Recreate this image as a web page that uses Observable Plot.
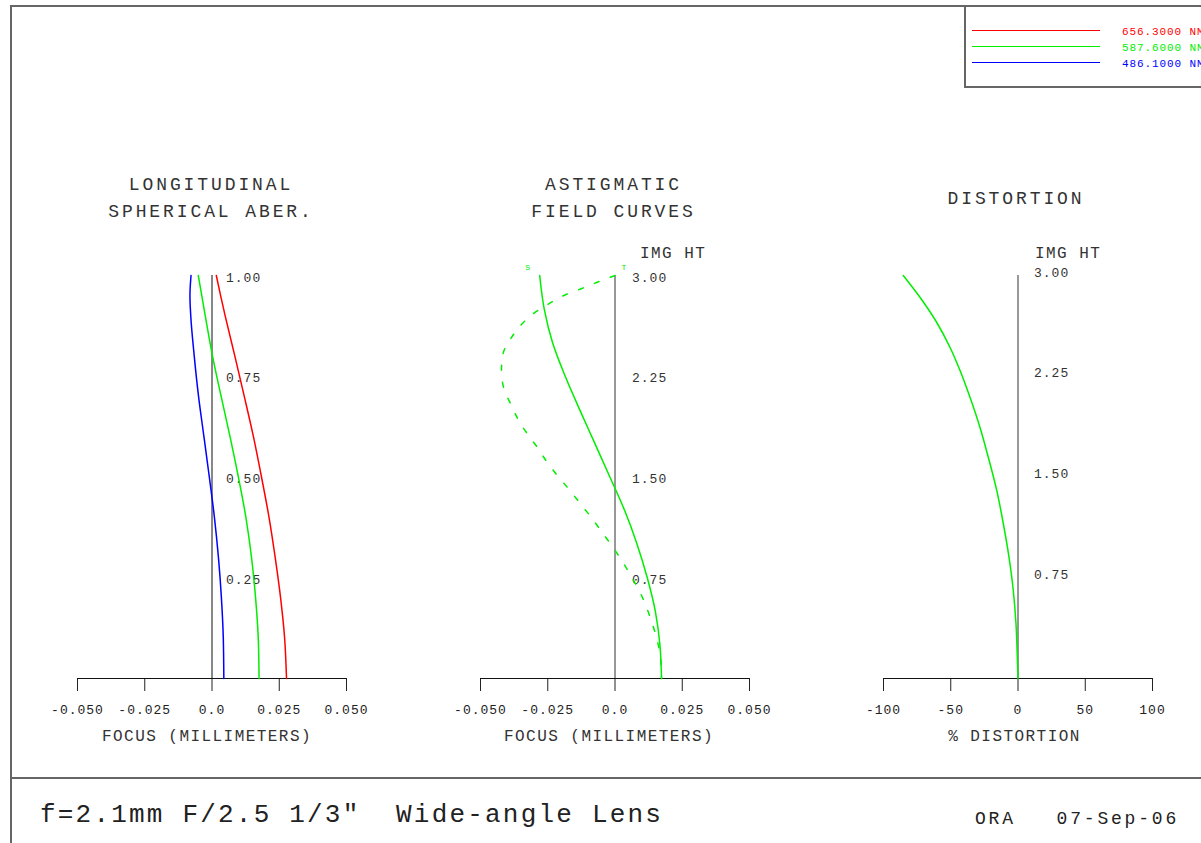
<!DOCTYPE html>
<html><head><meta charset="utf-8">
<script src="https://cdn.jsdelivr.net/npm/d3@7"></script>
<script src="https://cdn.jsdelivr.net/npm/@observablehq/plot@0.6"></script>
<style>
body{margin:0;background:#fff;}
#root{position:relative;width:1201px;height:843px;overflow:hidden;background:#fff;font-family:"Liberation Mono",monospace;color:#333;}
.t{position:absolute;white-space:pre;line-height:1;}
.hl{position:absolute;background:#666;}
</style></head><body><div id="root"></div>
<script>
// ---------- DATA ----------
// Longitudinal spherical aberration: relative pupil height vs focus (mm)
const pupil    = [0, 0.1, 0.2, 0.3, 0.4, 0.5, 0.6, 0.7, 0.8, 0.9, 0.95, 1.0];
const lsaRed   = [0.0277, 0.0270, 0.0255, 0.0235, 0.0212, 0.0184, 0.0154, 0.0120, 0.0085, 0.0049, 0.0032, 0.0016];
const lsaGreen = [0.0175, 0.0172, 0.0162, 0.0147, 0.0126, 0.0098, 0.0067, 0.0034, 0.0002, -0.0025, -0.0038, -0.0051];
const lsaBlue  = [0.0044, 0.0042, 0.0035, 0.0024, 0.0009, -0.0010, -0.0030, -0.0050, -0.0066, -0.0079, -0.0082, -0.0078];
const pupilTicks = [0.25, 0.5, 0.75, 1.0];

// Astigmatic field curves (587.6 nm): image height vs focus (mm)
const sagField = [3.0, 2.75, 2.5, 2.25, 2.0, 1.75, 1.5, 1.25, 1.0, 0.75, 0.5, 0.25, 0];
const sagFocus = [-0.0280, -0.0263, -0.0232, -0.0185, -0.0131, -0.0075, -0.0019, 0.0036, 0.0082, 0.0120, 0.0150, 0.0167, 0.0173];
const tanField = [3.0, 2.95, 2.9, 2.851, 2.789, 2.727, 2.641, 2.529, 2.417, 2.293, 2.157, 2.045, 1.921, 1.822, 1.722, 1.603, 1.499, 1.4, 1.3, 1.196, 1.089, 0.983, 0.873, 0.767, 0.65, 0.536, 0.412, 0.283, 0.159, 0];
const tanFocus = [0.0, -0.0066, -0.0128, -0.0190, -0.0246, -0.0296, -0.0345, -0.0388, -0.0416, -0.0422, -0.0413, -0.0388, -0.0358, -0.0326, -0.0289, -0.0250, -0.0209, -0.0168, -0.0128, -0.0087, -0.0048, -0.0010, 0.0027, 0.0058, 0.0091, 0.0116, 0.0138, 0.0157, 0.0169, 0.0173];

// Distortion (%) vs image height
const distField = [3.0, 2.838, 2.652, 2.466, 2.293, 2.094, 1.871, 1.647, 1.4, 1.152, 0.903, 0.655, 0.407, 0.159, 0];
const distPct   = [-85.3, -72.9, -60.5, -50.6, -43.1, -35.7, -28.3, -22.1, -15.8, -10.9, -6.7, -3.5, -1.5, -0.5, 0];

const fieldTicks = [0.75, 1.5, 2.25, 3.0];
const focusTicks = [-0.05, -0.025, 0, 0.025, 0.05];
const distTicks  = [-100, -50, 0, 50, 100];

const wavelengths = ["656.3000 NM", "587.6000 NM", "486.1000 NM"];
const waveColors  = ["#ff0000", "#00ee00", "#0000ff"];

const mainTitle = "f=2.1mm F/2.5 1/3\"  Wide-angle Lens";
const footer = "ORA   07-Sep-06";

// ---------- LAYOUT ----------
const root = document.getElementById("root");
const fmtFocus = d => d === 0 ? "0.0" : d.toFixed(3);
const baseStyle = {fontFamily: "Liberation Mono, monospace", fontSize: "13px", color: "#222", background: "transparent", overflow: "visible"};
const common = {height: 620, marginTop: 125, marginBottom: 92};

function place(svg, left, top) {
  Object.assign(svg.style, {position: "absolute", left: left + "px", top: top + "px"});
  const s = d3.select(svg);
  s.style("letter-spacing", "1.0px");
  s.selectAll('g[font-size="18"] text, g[font-size="18"] tspan').style("letter-spacing", "2.9px");
  s.selectAll('g[font-size="16"] text').style("letter-spacing", "1.45px");
  s.selectAll('g[font-size="8"] text').style("letter-spacing", "0px");
  root.appendChild(svg);
}

const lsaRows = pupil.map((p, i) => ({p, r: lsaRed[i], g: lsaGreen[i], b: lsaBlue[i]}));
const crv = "monotone-y";

const p1 = Plot.plot({
  ...common, width: 380, marginLeft: 57, marginRight: 54, style: baseStyle,
  x: {domain: [-0.05, 0.05], ticks: focusTicks, tickFormat: fmtFocus, tickSize: 13, tickPadding: 13, label: null},
  y: {domain: [0, 1], axis: null},
  marks: [
    Plot.ruleY([0], {stroke: "#111"}),
    Plot.ruleX([0], {y1: 0, y2: 1, stroke: "#111"}),
    Plot.text(pupilTicks, {x: 0, y: d => d, text: d => d.toFixed(2), dx: 14, dy: 2, textAnchor: "start", fill: "#333"}),
    Plot.line(lsaRows, {x: "r", y: "p", stroke: waveColors[0], curve: crv}),
    Plot.line(lsaRows, {x: "g", y: "p", stroke: waveColors[1], curve: crv}),
    Plot.line(lsaRows, {x: "b", y: "p", stroke: waveColors[2], curve: crv}),
    Plot.text(["LONGITUDINAL\nSPHERICAL ABER."], {frameAnchor: "top", dy: -105, dx: -1, lineHeight: 1.5, fontSize: 18, fill: "#333"}),
    Plot.text(["FOCUS (MILLIMETERS)"], {frameAnchor: "bottom", dy: 62, dx: -5, fontSize: 16, fill: "#333"})
  ]
});
place(p1, 20, 150);

const sagRows = sagField.map((h, i) => ({h, f: sagFocus[i]}));
const tanRows = tanField.map((h, i) => ({h, f: tanFocus[i]}));
const green = waveColors[1];

const p2 = Plot.plot({
  ...common, width: 380, marginLeft: 60, marginRight: 51, style: baseStyle,
  x: {domain: [-0.05, 0.05], ticks: focusTicks, tickFormat: fmtFocus, tickSize: 13, tickPadding: 13, label: null},
  y: {domain: [0, 3], axis: null},
  marks: [
    Plot.ruleY([0], {stroke: "#111"}),
    Plot.ruleX([0], {y1: 0, y2: 3, stroke: "#333"}),
    Plot.text(fieldTicks, {x: 0, y: d => d, text: d => d.toFixed(2), dx: 17, dy: 2, textAnchor: "start", fill: "#333"}),
    Plot.text(["IMG HT"], {x: 0, y: 3, dx: 25, dy: -23, textAnchor: "start", fontSize: 16, fill: "#333"}),
    Plot.line(sagRows, {x: "f", y: "h", stroke: green, curve: crv}),
    Plot.line(tanRows, {x: "f", y: "h", stroke: green, curve: crv, strokeDasharray: "5,12"}),
    Plot.text([sagRows[0]], {x: "f", y: "h", text: () => "S", dx: -12, dy: -8, fontSize: 8, fill: green}),
    Plot.text([tanRows[0]], {x: "f", y: "h", text: () => "T", dx: 9, dy: -8, fontSize: 8, fill: green}),
    Plot.text(["ASTIGMATIC\nFIELD CURVES"], {frameAnchor: "top", dy: -105, dx: -1.5, lineHeight: 1.5, fontSize: 18, fill: "#333"}),
    Plot.text(["FOCUS (MILLIMETERS)"], {frameAnchor: "bottom", dy: 62, dx: -6, fontSize: 16, fill: "#333"})
  ]
});
place(p2, 420, 150);

const distRows = distField.map((h, i) => ({h, d: distPct[i]}));
const p3 = Plot.plot({
  ...common, width: 381, marginLeft: 63, marginRight: 49, style: baseStyle,
  x: {domain: [-100, 100], ticks: distTicks, tickFormat: d => String(d), tickSize: 13, tickPadding: 13, label: null},
  y: {domain: [0, 3], axis: null},
  marks: [
    Plot.ruleY([0], {stroke: "#111"}),
    Plot.ruleX([0], {y1: 0, y2: 3, stroke: "#333"}),
    Plot.text(fieldTicks, {x: 0, y: d => d, text: d => d.toFixed(2), dx: 16, dy: -3, textAnchor: "start", fill: "#333"}),
    Plot.text(["IMG HT"], {x: 0, y: 3, dx: 17, dy: -23, textAnchor: "start", fontSize: 16, fill: "#333"}),
    Plot.line(distRows, {x: "d", y: "h", stroke: green, curve: crv}),
    Plot.text(["DISTORTION"], {frameAnchor: "top", dy: -84, dx: -2, fontSize: 18, fill: "#333"}),
    Plot.text(["% DISTORTION"], {frameAnchor: "bottom", dy: 62, dx: -3.5, fontSize: 16, fill: "#333"})
  ]
});
place(p3, 820, 150);

// ---------- FRAME, LEGEND, FOOTER ----------
function hl(x, y, w, h) { const d = document.createElement("div"); d.className = "hl"; Object.assign(d.style, {left: x + "px", top: y + "px", width: w + "px", height: h + "px"}); root.appendChild(d); }
hl(10, 5, 1191, 2);   // top border
hl(10, 5, 2, 838);    // left border
hl(10, 777, 1191, 2); // footer divider
hl(964, 5, 2, 83);    // legend box left
hl(964, 86, 237, 2);  // legend box bottom

wavelengths.forEach((w, i) => {
  const y = 30 + i * 16;
  const ln = document.createElement("div");
  Object.assign(ln.style, {position: "absolute", left: "972px", top: y + "px", width: "128px", height: "1px", background: waveColors[i]});
  root.appendChild(ln);
  const tx = document.createElement("div");
  tx.className = "t"; tx.textContent = w;
  Object.assign(tx.style, {left: "1122px", top: (y - 3) + "px", fontSize: "11px", letterSpacing: "0.9px", color: waveColors[i]});
  root.appendChild(tx);
});

function txt(s, x, y, fs, ls) {
  const d = document.createElement("div"); d.className = "t"; d.textContent = s;
  Object.assign(d.style, {left: x + "px", top: y + "px", fontSize: fs + "px", letterSpacing: ls + "px", color: "#222"});
  root.appendChild(d);
}
txt(mainTitle, 40, 802, 26, 2.2);
txt(footer, 975, 810, 18, 2.8);
</script></body></html>
